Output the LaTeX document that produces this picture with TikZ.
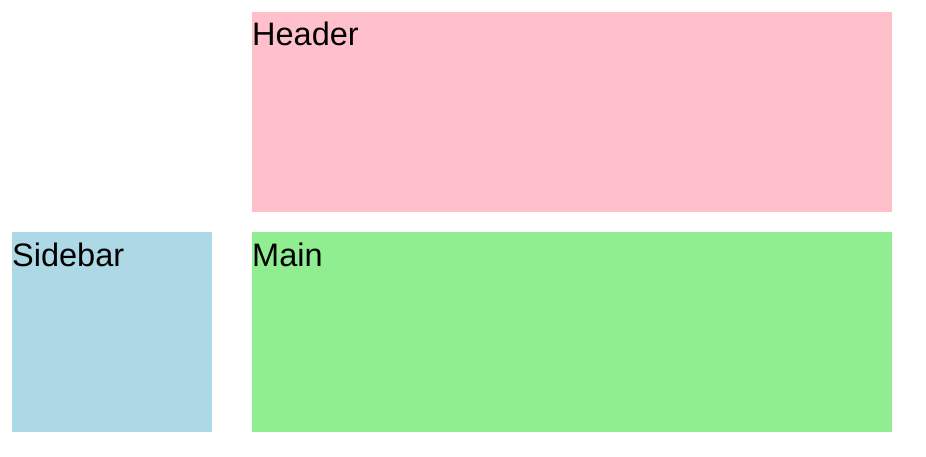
\documentclass[tikz,border=0pt]{standalone}
\usepackage{fontspec}
\setmainfont{Liberation Sans}
\definecolor{pinkc}{RGB}{255,192,203}
\definecolor{bluec}{RGB}{173,216,230}
\definecolor{greenc}{RGB}{144,238,144}
\begin{document}
\begin{tikzpicture}[x=1pt,y=1pt,
  lbl/.style={anchor=base west,inner sep=0pt,font=\fontsize{32.5}{38}\selectfont}]
\useasboundingbox (0,0) rectangle (926,456);
\fill[pinkc] (252,244) rectangle (892,444);
\fill[bluec] (12,24) rectangle (212,224);
\fill[greenc] (252,24) rectangle (892,224);
\node[lbl] (header) at (252,410) {Header};
\node[lbl] (sidebar) at (12,190) {Sidebar};
\node[lbl] (main) at (252,190) {Main};
\end{tikzpicture}
\end{document}
